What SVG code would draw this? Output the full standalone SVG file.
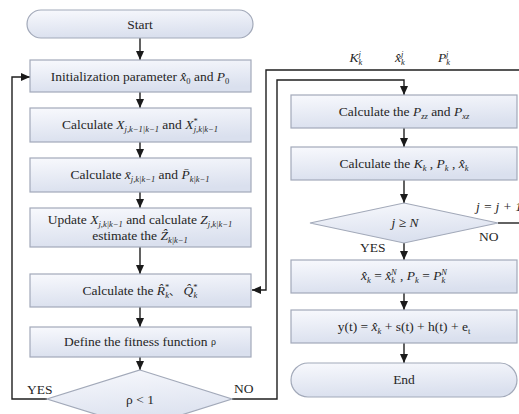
<svg xmlns="http://www.w3.org/2000/svg" width="519" height="414" viewBox="0 0 519 414">
  <defs>
    <linearGradient id="fillGrad" x1="0" y1="0" x2="0.25" y2="1">
      <stop offset="0" stop-color="#f8f9fd"/>
      <stop offset="1" stop-color="#dae0ee"/>
    </linearGradient>
    <marker id="arrow" markerUnits="userSpaceOnUse" markerWidth="10" markerHeight="10" refX="9" refY="5" orient="auto">
      <path d="M0,1 L9,5 L0,9 Z" fill="#1a1a1a"/>
    </marker>
    <style>
      .box { fill: url(#fillGrad); stroke: #a2a9b9; stroke-width: 1.2; }
      .t { font-family: "Liberation Serif", "DejaVu Serif", serif; font-size: 13.5px; fill: #262626; text-anchor: middle; }
      .lbl { font-family: "Liberation Serif", "DejaVu Serif", serif; font-size: 13.5px; fill: #262626; }
      .cjk { font-family: "Noto Sans CJK SC", sans-serif; font-size: 11px; }
      .i { font-style: italic; }
      .s { font-size: 8.5px; font-style: italic; }
      .su { font-size: 8.5px; }
      .line { fill: none; stroke: #1f1f1f; stroke-width: 1.4; }
    </style>
  </defs>

  <!-- connectors -->
  <g id="connectors">
    <line class="line" x1="140" y1="38" x2="140" y2="60" marker-end="url(#arrow)"/>
    <line class="line" x1="140" y1="92" x2="140" y2="108" marker-end="url(#arrow)"/>
    <line class="line" x1="140" y1="142" x2="140" y2="158" marker-end="url(#arrow)"/>
    <line class="line" x1="140" y1="192" x2="140" y2="208" marker-end="url(#arrow)"/>
    <line class="line" x1="140" y1="247" x2="140" y2="274" marker-end="url(#arrow)"/>
    <line class="line" x1="140" y1="307" x2="140" y2="327" marker-end="url(#arrow)"/>
    <line class="line" x1="140" y1="357" x2="140" y2="370" marker-end="url(#arrow)"/>
    <!-- YES loop back to initialization -->
    <path class="line" d="M47,399 H12 V77 H30" marker-end="url(#arrow)"/>
    <!-- NO branch into the inner loop -->
    <path class="line" d="M232,399 H277 V80 H404 V95" marker-end="url(#arrow)"/>
    <!-- outer feedback into the R/Q step -->
    <path class="line" d="M519,70 H266 V290 H252" marker-end="url(#arrow)"/>
    <line class="line" x1="404" y1="128" x2="404" y2="147" marker-end="url(#arrow)"/>
    <line class="line" x1="404" y1="180" x2="404" y2="203" marker-end="url(#arrow)"/>
    <line class="line" x1="404" y1="243" x2="404" y2="260" marker-end="url(#arrow)"/>
    <line class="line" x1="404" y1="293" x2="404" y2="310" marker-end="url(#arrow)"/>
    <line class="line" x1="404" y1="343" x2="404" y2="363" marker-end="url(#arrow)"/>
    <line class="line" x1="498" y1="223" x2="519" y2="223"/>
  </g>

  <!-- left column -->
  <g id="start">
    <rect class="box" x="27" y="10" width="226" height="28" rx="14"/>
    <text class="t" x="140" y="29">Start</text>
  </g>
  <g id="init">
    <rect class="box" x="30" y="60" width="221" height="32"/>
    <text class="t" x="140" y="81">Initialization parameter <tspan class="i">x̂</tspan><tspan class="su" dy="3">0</tspan><tspan dy="-3"> and </tspan><tspan class="i">P</tspan><tspan class="su" dy="3">0</tspan></text>
  </g>
  <g id="calc-x">
    <rect class="box" x="30" y="108" width="221" height="34"/>
    <text class="t" x="140" y="129">Calculate <tspan class="i">X</tspan><tspan class="s" dy="3">j,k−1|k−1</tspan><tspan dy="-3"> and </tspan><tspan class="i">X</tspan><tspan class="su" dy="-5">*</tspan><tspan class="s" dx="-4" dy="8">j,k|k−1</tspan></text>
  </g>
  <g id="calc-xbar">
    <rect class="box" x="30" y="158" width="221" height="34"/>
    <text class="t" x="140" y="179">Calculate <tspan class="i">x̄</tspan><tspan class="s" dy="3">j,k|k−1</tspan><tspan dy="-3"> and  </tspan><tspan class="i">P̄</tspan><tspan class="s" dy="3">k|k−1</tspan></text>
  </g>
  <g id="update">
    <rect class="box" x="30" y="208" width="221" height="39"/>
    <text class="t" x="140" y="224">Update <tspan class="i">X</tspan><tspan class="s" dy="3">j,k|k−1</tspan><tspan dy="-3"> and calculate </tspan><tspan class="i">Z</tspan><tspan class="s" dy="3">j,k|k−1</tspan></text>
    <text class="t" x="140" y="240">estimate the <tspan class="i">Ẑ</tspan><tspan class="s" dy="3">k|k−1</tspan></text>
  </g>
  <g id="calc-rq">
    <rect class="box" x="30" y="274" width="221" height="33"/>
    <text class="t" x="140" y="295">Calculate the <tspan class="i">R̂</tspan><tspan class="su" dy="-5">*</tspan><tspan class="s" dx="-4" dy="8">k</tspan><tspan class="cjk" dy="-3">、</tspan><tspan> </tspan><tspan class="i">Q̂</tspan><tspan class="su" dy="-5">*</tspan><tspan class="s" dx="-4" dy="8">k</tspan></text>
  </g>
  <g id="fitness">
    <rect class="box" x="30" y="327" width="221" height="30"/>
    <text class="t" x="140" y="346">Define the fitness function  <tspan font-size="10" dy="-1">ρ</tspan></text>
  </g>
  <g id="check-rho">
    <polygon class="box" points="140,370 232,399 140,428 47,399"/>
    <text class="t" x="140" y="404">ρ &lt; 1</text>
    <text class="lbl" x="27" y="394">YES</text>
    <text class="lbl" x="234" y="393">NO</text>
  </g>

  <!-- feedback values -->
  <g id="feedback-labels">
    <text class="t" x="356" y="62"><tspan class="i">K</tspan><tspan class="s" dy="3">k</tspan><tspan class="s" dx="-4" dy="-8">j</tspan></text>
    <text class="t" x="400" y="62"><tspan class="i">x̂</tspan><tspan class="s" dy="3">k</tspan><tspan class="s" dx="-4" dy="-8">j</tspan></text>
    <text class="t" x="444" y="62"><tspan class="i">P</tspan><tspan class="s" dy="3">k</tspan><tspan class="s" dx="-4" dy="-8">j</tspan></text>
  </g>

  <!-- right column -->
  <g id="calc-pzz">
    <rect class="box" x="291" y="95" width="226" height="33"/>
    <text class="t" x="404" y="116">Calculate the <tspan class="i">P</tspan><tspan class="s" dy="3">zz</tspan><tspan dy="-3">  and  </tspan><tspan class="i">P</tspan><tspan class="s" dy="3">xz</tspan></text>
  </g>
  <g id="calc-k">
    <rect class="box" x="291" y="147" width="226" height="33"/>
    <text class="t" x="404" y="168">Calculate the <tspan class="i">K</tspan><tspan class="s" dy="3">k</tspan><tspan dy="-3"> , </tspan><tspan class="i">P</tspan><tspan class="s" dy="3">k</tspan><tspan dy="-3"> , </tspan><tspan class="i">x̂</tspan><tspan class="s" dy="3">k</tspan></text>
  </g>
  <g id="check-j">
    <polygon class="box" points="404,203 498,223 404,243 310,223"/>
    <text class="t i" x="405" y="227">j ≥ N</text>
    <text class="lbl" x="360" y="252">YES</text>
    <text class="lbl" x="479" y="241">NO</text>
    <text class="lbl i" x="476" y="211">j = j + 1</text>
  </g>
  <g id="final-state">
    <rect class="box" x="291" y="260" width="226" height="33"/>
    <text class="t" x="404" y="280"><tspan class="i">x̂</tspan><tspan class="s" dy="3">k</tspan><tspan dy="-3"> = </tspan><tspan class="i">x̂</tspan><tspan class="s" dy="3">k</tspan><tspan class="s" dx="-4" dy="-8">N</tspan><tspan dy="5"> ,  </tspan><tspan class="i">P</tspan><tspan class="s" dy="3">k</tspan><tspan dy="-3"> = </tspan><tspan class="i">P</tspan><tspan class="s" dy="3">k</tspan><tspan class="s" dx="-4" dy="-8">N</tspan></text>
  </g>
  <g id="output">
    <rect class="box" x="291" y="310" width="226" height="33"/>
    <text class="t" x="404" y="331">y(t) = <tspan class="i">x̂</tspan><tspan class="s" dy="3">k</tspan><tspan dy="-3"> + s(t) + h(t) + e</tspan><tspan class="su" dy="3">t</tspan></text>
  </g>
  <g id="end">
    <rect class="box" x="291" y="363" width="226" height="34" rx="17"/>
    <text class="t" x="404" y="384">End</text>
  </g>
</svg>
